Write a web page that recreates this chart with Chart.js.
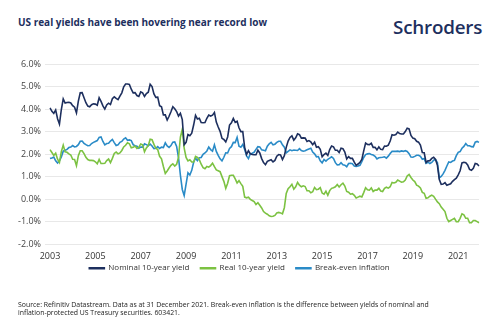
<!DOCTYPE html>
<html>
<head>
<meta charset="utf-8">
<script src="https://cdn.jsdelivr.net/npm/chart.js@4/dist/chart.umd.min.js"></script>
<style>
  html, body { margin: 0; padding: 0; background: #fff; }
  #wrap { position: relative; width: 500px; height: 335px; overflow: hidden; font-family: "Open Sans", sans-serif; }
  #title { position: absolute; left: 18px; top: 15px; font-size: 10px; font-weight: 700; color: #1d2f5e; }
  #logo { position: absolute; left: 393px; top: 14px; font-size: 18.8px; font-weight: 600; color: #1d2f5e; letter-spacing: -0.2px; }
  #source { position: absolute; left: 18px; top: 301px; width: 425px; font-size: 6.9px; line-height: 8.3px; color: #222; }
  canvas { position: absolute; left: 0; top: 0; }
</style>
</head>
<body>
<div id="wrap">
  <div id="title">US real yields have been hovering near record low</div>
  <div id="logo">Schroders</div>
  <canvas id="chart" width="500" height="335"></canvas>
  <div id="source">Source: Refinitiv Datastream. Data as at 31 December 2021. Break-even inflation is the difference between yields of nominal and inflation-protected US Treasury securities. 603421.</div>
</div>
<script>
// monthly, Jan 2003 - Dec 2021
const years = [];
for (let y = 2003; y <= 2021; y++) years.push(y);
const months = [];
years.forEach(y => { for (let m = 1; m <= 12; m++) months.push(y + '-' + String(m).padStart(2, '0')); });

const nominal = [
  4.05,3.90,3.81,3.96,3.57,3.33,3.98,4.45,4.27,4.29,4.30,4.27,
  4.15,4.08,3.83,4.35,4.72,4.73,4.50,4.28,4.13,4.10,4.19,4.23,
  4.22,4.17,4.50,4.34,4.14,4.00,4.18,4.26,4.20,4.46,4.54,4.47,
  4.42,4.57,4.72,4.99,5.11,5.11,5.09,4.88,4.72,4.73,4.60,4.56,
  4.76,4.72,4.56,4.69,4.75,5.10,5.00,4.67,4.52,4.53,4.15,4.10,
  3.74,3.74,3.51,3.68,3.88,4.10,4.01,3.89,3.69,3.81,3.53,2.42,
  2.52,2.87,2.82,2.93,3.29,3.72,3.56,3.59,3.40,3.39,3.40,3.59,
  3.73,3.69,3.73,3.85,3.42,3.20,3.01,2.70,2.65,2.54,2.76,3.29,
  3.39,3.58,3.41,3.46,3.17,3.00,3.00,2.30,1.98,2.15,2.01,1.98,
  1.97,1.97,2.17,2.05,1.80,1.62,1.53,1.68,1.72,1.75,1.65,1.72,
  1.91,1.98,1.96,1.76,1.93,2.30,2.58,2.74,2.81,2.62,2.72,2.90,
  2.86,2.71,2.72,2.71,2.56,2.60,2.54,2.42,2.53,2.30,2.33,2.21,
  1.88,1.98,2.04,1.94,2.20,2.36,2.32,2.17,2.17,2.07,2.26,2.24,
  2.09,1.78,1.89,1.81,1.81,1.64,1.50,1.56,1.63,1.76,2.14,2.49,
  2.43,2.42,2.48,2.30,2.30,2.19,2.32,2.21,2.20,2.36,2.35,2.40,
  2.58,2.86,2.84,2.87,2.98,2.91,2.89,2.89,3.00,3.15,3.12,2.83,
  2.71,2.68,2.57,2.53,2.40,2.07,2.06,1.63,1.70,1.71,1.81,1.86,
  1.76,1.50,0.87,0.66,0.67,0.73,0.62,0.65,0.68,0.79,0.87,0.93,
  1.08,1.26,1.61,1.64,1.62,1.52,1.32,1.28,1.37,1.58,1.56,1.47
];

const real = [
  2.20,2.07,1.94,2.04,1.77,1.63,2.11,2.40,2.10,2.08,2.01,1.96,
  1.77,1.76,1.49,1.93,2.15,2.15,2.02,1.86,1.76,1.72,1.72,1.71,
  1.66,1.57,1.76,1.58,1.58,1.59,1.71,1.78,1.62,1.81,2.03,2.09,
  2.01,2.05,2.16,2.32,2.39,2.50,2.46,2.28,2.30,2.36,2.25,2.30,
  2.45,2.41,2.10,2.27,2.38,2.66,2.64,2.43,2.26,2.20,1.90,1.79,
  1.45,1.14,1.25,1.38,1.50,1.57,1.47,1.55,1.85,2.75,3.10,2.26,
  1.85,1.70,1.75,1.65,1.65,1.90,1.85,1.75,1.55,1.40,1.35,1.45,
  1.42,1.49,1.60,1.44,1.30,1.26,1.22,1.00,0.79,0.48,0.71,1.04,
  1.06,1.06,0.90,0.72,0.82,0.69,0.57,0.09,0.06,0.09,-0.01,-0.06,
  -0.11,-0.24,-0.16,-0.27,-0.39,-0.55,-0.62,-0.67,-0.74,-0.77,-0.76,-0.72,
  -0.61,-0.59,-0.61,-0.65,-0.38,0.25,0.46,0.55,0.66,0.44,0.55,0.74,
  0.62,0.55,0.59,0.56,0.37,0.37,0.28,0.33,0.52,0.42,0.44,0.51,
  0.27,0.22,0.35,0.17,0.38,0.48,0.51,0.55,0.65,0.54,0.64,0.71,
  0.58,0.34,0.31,0.22,0.24,0.17,0.05,0.09,0.13,0.10,0.29,0.51,
  0.42,0.40,0.50,0.34,0.40,0.40,0.48,0.36,0.34,0.48,0.53,0.49,
  0.55,0.74,0.72,0.75,0.85,0.80,0.75,0.77,0.85,1.03,1.10,0.96,
  0.85,0.78,0.62,0.58,0.50,0.30,0.26,0.04,0.06,0.13,0.18,0.13,
  0.00,-0.12,-0.20,-0.35,-0.45,-0.55,-0.85,-1.00,-0.95,-0.90,-0.85,-1.00,
  -1.00,-0.85,-0.65,-0.70,-0.85,-0.85,-1.05,-1.05,-0.95,-0.95,-1.00,-1.05
];

const breakeven = [
  1.80,1.83,1.87,1.70,1.60,1.70,1.87,2.13,2.17,2.21,2.29,2.31,
  2.38,2.32,2.34,2.42,2.57,2.58,2.48,2.42,2.37,2.38,2.47,2.52,
  2.56,2.60,2.74,2.76,2.56,2.41,2.47,2.48,2.58,2.65,2.51,2.38,
  2.41,2.52,2.56,2.67,2.72,2.61,2.63,2.60,2.42,2.37,2.35,2.26,
  2.31,2.31,2.46,2.42,2.37,2.44,2.36,2.24,2.26,2.33,2.25,2.31,
  2.29,2.50,2.36,2.30,2.38,2.53,2.54,2.34,1.84,1.06,0.43,0.16,
  0.67,1.17,1.07,1.28,1.64,1.82,1.71,1.84,1.85,1.99,2.05,2.14,
  2.31,2.20,2.13,2.41,2.12,1.94,1.79,1.70,1.86,2.06,2.05,2.25,
  2.33,2.52,2.51,2.74,2.35,2.31,2.43,2.21,1.92,1.80,2.02,2.04,
  2.08,2.21,2.33,2.32,2.19,2.17,2.15,2.35,2.46,2.52,2.41,2.44,
  2.52,2.57,2.57,2.41,2.31,2.05,2.12,2.19,2.15,2.18,2.17,2.16,
  2.24,2.16,2.13,2.15,2.19,2.23,2.26,2.09,2.01,1.88,1.89,1.70,
  1.61,1.76,1.69,1.77,1.82,1.88,1.81,1.62,1.52,1.53,1.62,1.53,
  1.51,1.44,1.58,1.59,1.57,1.47,1.45,1.47,1.50,1.66,1.85,1.98,
  2.01,2.02,1.98,1.96,1.90,1.79,1.84,1.85,1.86,1.88,1.82,1.91,
  2.03,2.12,2.12,2.12,2.13,2.11,2.14,2.12,2.15,2.12,2.02,1.87,
  1.86,1.90,1.95,1.95,1.90,1.77,1.80,1.59,1.64,1.58,1.63,1.73,
  1.76,1.62,0.95,1.01,1.12,1.28,1.47,1.65,1.63,1.69,1.72,1.93,
  2.08,2.11,2.26,2.34,2.47,2.37,2.37,2.33,2.32,2.53,2.56,2.52
];

const seriesNames = ['Nominal 10-year yield', 'Real 10-year yield', 'Break-even inflation'];
const seriesColors = ['#1d2f5e', '#7cc242', '#2a8bc7'];

const font = { family: '"Open Sans", sans-serif', size: 9 };

// pull the legend up close under the x labels, keep the wide gaps between items
const liftLegend = {
  id: 'liftLegend',
  afterLayout(chart) {
    const lg = chart.legend;
    const h = lg.bottom - lg.top;
    lg.top = chart.chartArea.bottom + 9;
    lg.bottom = lg.top + h;
  }
};

new Chart(document.getElementById('chart').getContext('2d'), {
  type: 'line',
  data: {
    labels: months,
    datasets: [nominal, real, breakeven].map((d, i) => ({
      label: seriesNames[i],
      data: d,
      borderColor: seriesColors[i],
      backgroundColor: seriesColors[i],
      borderWidth: 1.6,
      pointRadius: 0,
      tension: 0
    }))
  },
  options: {
    responsive: false,
    animation: false,
    layout: { padding: { left: 0, right: 21, top: 64, bottom: 37 } },
    plugins: {
      legend: {
        position: 'bottom',
        labels: { font: { family: font.family, size: 8 }, color: '#333', boxWidth: 15, boxHeight: 1, padding: 11 }
      },
      tooltip: { enabled: false }
    },
    scales: {
      x: {
        grid: { display: false, drawTicks: false },
        border: { display: false },
        ticks: {
          font: font, color: '#333', autoSkip: false, maxRotation: 0, padding: 7,
          callback: (v, i) => (i % 24 === 0 ? months[i].slice(0, 4) : null)
        }
      },
      y: {
        min: -2, max: 6,
        grid: { color: '#e8e8e8', tickLength: 5 },
        border: { display: false },
        ticks: { font: font, color: '#444', stepSize: 1, padding: 4, callback: v => v.toFixed(1) + '%' },
        afterFit: s => { s.width = 50; }
      }
    }
  },
  plugins: [liftLegend]
});
</script>
</body>
</html>
